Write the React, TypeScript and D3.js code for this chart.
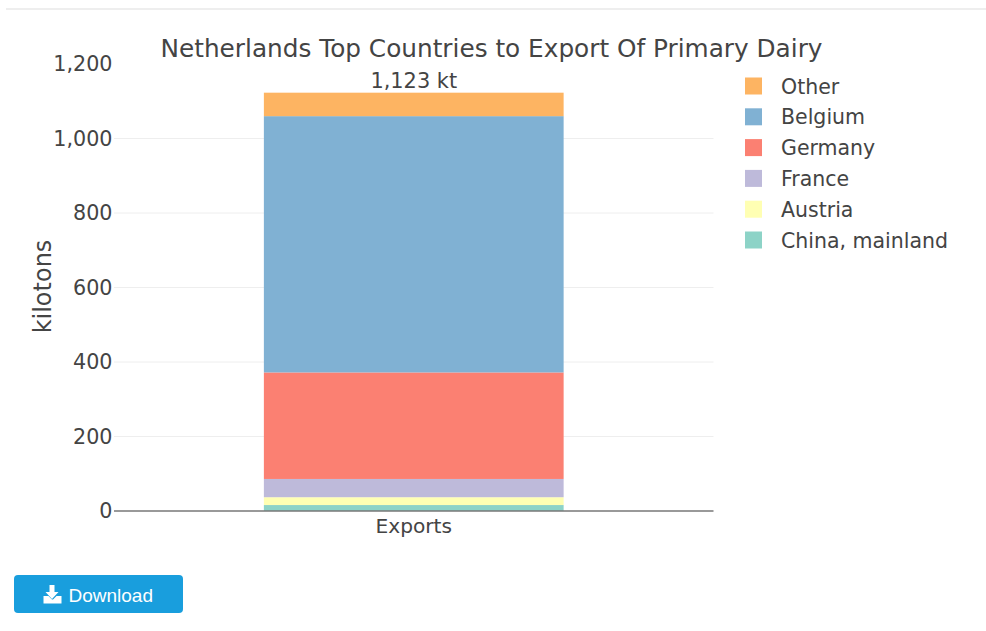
import React, { useEffect, useRef } from "react";
import * as d3 from "d3";

const categories = ["Exports"];
const seriesNames = ["China, mainland", "Austria", "France", "Germany", "Belgium", "Other"];
const seriesValues = [16, 21, 49, 286, 688, 63];
const seriesColors = ["#8dd3c7", "#ffffb3", "#bebada", "#fb8072", "#80b1d3", "#fdb462"];
const yTicks = [0, 200, 400, 600, 800, 1000, 1200];
const totalLabel = "1,123 kt";
const titleText = "Netherlands Top Countries to Export Of Primary Dairy";
const yAxisTitle = "kilotons";

const FONT = "'DejaVu Sans', Verdana, sans-serif";
const INK = "#444444";

export default function App() {
  const ref = useRef<SVGSVGElement | null>(null);

  useEffect(() => {
    const svg = d3.select(ref.current);
    svg.selectAll("*").remove();

    const left = 114;
    const right = 713.5;
    const y = d3.scaleLinear().domain([0, 1200]).range([511, 64]);
    const x = d3.scaleBand().domain(categories).range([left, right]).paddingInner(0.5).paddingOuter(0.25);

    // page rule above the chart
    svg.append("rect").attr("x", 6).attr("y", 8).attr("width", 980).attr("height", 2).attr("fill", "#eeeeee");

    // horizontal grid and value labels
    const grid = svg.append("g");
    yTicks.forEach((t) => {
      if (t > 0 && t < 1200) {
        grid.append("line")
          .attr("x1", left).attr("x2", right)
          .attr("y1", y(t)).attr("y2", y(t))
          .attr("stroke", "#eeeeee").attr("stroke-width", 1);
      }
      grid.append("text")
        .attr("x", 112.5).attr("y", y(t) + 7)
        .attr("text-anchor", "end")
        .attr("font-family", FONT).attr("font-size", 20.7).attr("fill", INK)
        .text(d3.format(",")(t));
    });

    // stacked column
    const row = [Object.fromEntries(seriesNames.map((n, i) => [n, seriesValues[i]]))] as any[];
    const stacked = d3.stack().keys(seriesNames)(row);
    const bandX = x(categories[0]) as number;
    stacked.forEach((layer, i) => {
      const [y0, y1] = layer[0];
      svg.append("rect")
        .attr("x", bandX).attr("width", x.bandwidth())
        .attr("y", y(y1)).attr("height", y(y0) - y(y1))
        .attr("fill", seriesColors[i]);
    });

    // zero line
    svg.append("line")
      .attr("x1", left).attr("x2", right)
      .attr("y1", y(0)).attr("y2", y(0))
      .attr("stroke", "#777777").attr("stroke-width", 1.3);

    const center = bandX + x.bandwidth() / 2;
    svg.append("text")
      .attr("x", center).attr("y", 533)
      .attr("text-anchor", "middle")
      .attr("font-family", FONT).attr("font-size", 20.2).attr("fill", INK)
      .text(categories[0]);

    svg.append("text")
      .attr("x", center).attr("y", 87.5)
      .attr("text-anchor", "middle")
      .attr("font-family", FONT).attr("font-size", 20.9).attr("fill", INK)
      .text(totalLabel);

    svg.append("text")
      .attr("x", 491.5).attr("y", 57)
      .attr("text-anchor", "middle")
      .attr("font-family", FONT).attr("font-size", 24.75).attr("fill", INK)
      .text(titleText);

    svg.append("text")
      .attr("transform", "translate(50.5,286.5) rotate(-90)")
      .attr("text-anchor", "middle")
      .attr("font-family", FONT).attr("font-size", 24).attr("fill", INK)
      .text(yAxisTitle);

    // legend, stack order reversed so the top segment is listed first
    const legendY = d3.scalePoint<string>()
      .domain([...seriesNames].reverse())
      .range([86, 240]);
    seriesNames.forEach((name, i) => {
      const cy = legendY(name) as number;
      svg.append("rect")
        .attr("x", 745).attr("y", cy - 8.5).attr("width", 17).attr("height", 17)
        .attr("fill", seriesColors[i]);
      svg.append("text")
        .attr("x", 781).attr("y", cy + 7.6)
        .attr("font-family", FONT).attr("font-size", 20.5).attr("fill", INK)
        .text(name);
    });

    // download button
    const btn = svg.append("g");
    btn.append("rect")
      .attr("x", 14).attr("y", 575).attr("width", 169).attr("height", 38).attr("rx", 4)
      .attr("fill", "#199edd");
    btn.append("path")
      .attr("d", "M49.5 585h5v7h4l-6.5 7-6.5-7h4z M43.5 596h5l3.5 3.5h1l3.5-3.5h5v7.5h-18z")
      .attr("fill", "#ffffff");
    btn.append("text")
      .attr("x", 68.5).attr("y", 601.5)
      .attr("font-family", "'Liberation Sans', Arial, sans-serif").attr("font-size", 19).attr("fill", "#ffffff")
      .text("Download");
  }, []);

  return (
    <svg
      ref={ref}
      width={986}
      height={631}
      style={{ position: "absolute", left: 0, top: 0, background: "#ffffff" }}
    />
  );
}
